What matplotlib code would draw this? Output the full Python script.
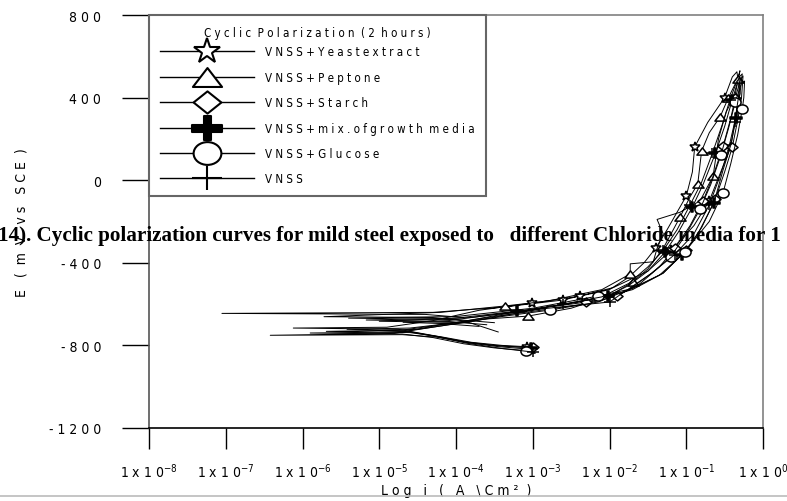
import numpy as np
import matplotlib
matplotlib.use("Agg")
import matplotlib.pyplot as plt
from matplotlib.path import Path
from matplotlib.transforms import Affine2D
from matplotlib.lines import Line2D
from matplotlib import font_manager
from matplotlib.ticker import FixedLocator, FixedFormatter, NullLocator

# ---------------- data ----------------
series_names = ["VNSS+Yeast extract", "VNSS+Peptone", "VNSS+Starch",
                "VNSS+mix. of growth media", "VNSS+Glucose", "VNSS"]
legend_labels = ["V N S S + Y e a s t e x t r a c t",
                 "V N S S + P e p t o n e",
                 "V N S S + S t a r c h",
                 "V N S S + m i x . o f g r o w t h  m e d i a",
                 "V N S S + G l u c o s e",
                 "V N S S"]
legend_title = "C y c l i c  P o l a r i z a t i o n  ( 2  h o u r s )"

# log10 of current density (A/cm2) and potential (mV vs SCE)
yeast_log_i = [-3.08, -3.5, -3.9, -4.3, -4.75, -6.12, -4.9, -4.3, -3.7, -3.01, -2.38, -2.0, -1.75,
               -1.55, -1.40, -1.25, -1.0, -0.92, -0.89, -0.72, -0.5, -0.40, -0.34, -0.3, -0.36,
               -0.42, -0.55, -0.7, -0.9, -1.2, -1.5, -1.95, -2.6, -3.4, -4.3, -7.05, -4.4, -3.9]
yeast_E = [-810, -800, -782, -752, -722, -716, -712, -680, -630, -595, -561, -530, -470,
           -400, -330, -240, -77, 40, 161, 280, 400, 500, 525, 420, 300,
           160, 40, -100, -220, -340, -440, -520, -580, -615, -640, -645, -650, -665]

peptone_log_i = [-3.05, -3.45, -3.85, -4.25, -4.7, -6.42, -4.8, -4.2, -3.6, -3.06, -2.5, -2.0, -1.70,
                 -1.5, -1.3, -1.08, -0.95, -0.85, -0.8, -0.7, -0.56, -0.45, -0.33, -0.3, -0.36,
                 -0.48, -0.58, -0.65, -0.82, -1.08, -1.38, -1.30, -1.38, -1.43, -1.73, -1.73,
                 -2.1, -2.8, -3.36, -4.2, -5.72, -4.3, -3.8]
peptone_E = [-818, -806, -787, -760, -748, -751, -742, -700, -672, -658, -620, -560, -493,
             -430, -330, -178, -80, -18, 141, 230, 306, 400, 490, 530, 420,
             330, 200, 20, -100, -155, -190, -260, -330, -395, -405, -454,
             -530, -585, -609, -640, -661, -665, -685]

starch_log_i = [-3.0, -3.4, -3.8, -4.2, -4.6, -5.69, -4.7, -4.1, -3.5, -2.9, -2.3, -1.9, -1.6,
                -1.35, -1.15, -0.95, -0.78, -0.65, -0.52, -0.42, -0.36, -0.29, -0.26, -0.28, -0.33,
                -0.40, -0.5, -0.62, -0.8, -1.0, -1.3, -1.7, -2.3, -3.1, -4.0, -5.17, -4.1, -3.6]
starch_E = [-808, -800, -785, -758, -738, -732, -726, -695, -660, -630, -598, -560, -500,
            -420, -330, -220, -100, 20, 165, 300, 400, 490, 505, 400, 290,
            160, 40, -90, -230, -340, -450, -530, -590, -630, -668, -677, -684, -700]

mix_log_i = [-3.02, -3.45, -3.85, -4.25, -4.65, -5.42, -4.6, -4.0, -3.4, -2.8, -2.02, -1.75, -1.5,
             -1.28, -1.1, -0.92, -0.78, -0.62, -0.5, -0.4, -0.31, -0.27, -0.3, -0.35, -0.42,
             -0.52, -0.64, -0.85, -1.05, -1.35, -1.8, -2.4, -3.2, -4.1, -4.69, -4.2, -3.7]
mix_E = [-812, -802, -786, -757, -730, -722, -716, -690, -650, -615, -561, -510, -440,
         -350, -250, -130, -20, 130, 260, 390, 500, 515, 420, 300, 170,
         50, -110, -260, -360, -460, -540, -590, -635, -680, -688, -694, -708]

glucose_log_i = [-3.09, -3.5, -3.9, -4.3, -4.7, -5.9, -4.7, -4.1, -3.4, -2.78, -2.15, -1.75, -1.45,
                 -1.2, -1.0, -0.82, -0.68, -0.55, -0.45, -0.36, -0.28, -0.24, -0.25, -0.27, -0.33,
                 -0.42, -0.52, -0.7, -1.02, -1.3, -1.7, -2.15, -3.0, -4.0, -5.4, -4.0, -3.5]
glucose_E = [-825, -812, -792, -762, -745, -740, -735, -700, -660, -629, -590, -530, -450,
             -370, -260, -140, -20, 120, 250, 380, 470, 480, 400, 345, 220,
             80, -60, -200, -348, -450, -525, -561, -620, -660, -668, -675, -690]

vnss_log_i = [-3.0, -3.4, -3.85, -4.25, -4.6, -5.0, -4.5, -3.9, -3.3, -2.6, -2.1, -1.75, -1.5,
              -1.3, -1.12, -0.95, -0.8, -0.66, -0.53, -0.43, -0.34, -0.3, -0.32, -0.37, -0.45,
              -0.56, -0.7, -0.9, -1.15, -1.45, -2.0, -2.8, -3.8, -5.0, -3.82, -3.45]
vnss_E = [-832, -815, -790, -758, -735, -728, -722, -690, -650, -600, -565, -500, -420,
          -340, -240, -120, -10, 130, 270, 390, 480, 495, 400, 280, 150,
          20, -120, -260, -360, -450, -590, -620, -665, -683, -690, -735]

x_ticks = [1e-8, 1e-7, 1e-6, 1e-5, 1e-4, 1e-3, 1e-2, 1e-1, 1e0]
x_tick_labels = [r"1 x 1 0$^{-8}$", r"1 x 1 0$^{-7}$", r"1 x 1 0$^{-6}$", r"1 x 1 0$^{-5}$",
                 r"1 x 1 0$^{-4}$", r"1 x 1 0$^{-3}$", r"1 x 1 0$^{-2}$", r"1 x 1 0$^{-1}$",
                 r"1 x 1 0$^{0}$"]
y_ticks = [800, 400, 0, -400, -800, -1200]
y_tick_labels = ["8 0 0", "4 0 0", "0", "- 4 0 0", "- 8 0 0", "- 1 2 0 0"]
x_label = "L o g   i   (   A   \\ C m ²  )"
y_label = "E   (  m  V   v s   S C E  )"
caption = "14). Cyclic polarization curves for mild steel exposed to   different Chloride media for 1"

# ---------------- fonts ----------------
names = {f.name for f in font_manager.fontManager.ttflist}
if "Liberation Sans Narrow" in names:
    NARROW = "Liberation Sans Narrow"
else:
    NARROW = "DejaVu Sans"
    plt.rcParams["font.stretch"] = "condensed"
plt.rcParams["font.family"] = [NARROW, "DejaVu Sans"]
plt.rcParams["mathtext.default"] = "regular"

# ---------------- marker shapes ----------------
tri_path = Path([(0, 0.65), (-1, -0.65), (1, -0.65), (0, 0.65)], closed=True)
dia_path = Path([(0, 0.8), (1, 0), (0, -0.8), (-1, 0), (0, 0.8)], closed=True)
ell_path = Affine2D().scale(1, 0.82).transform_path(Path.unit_circle())
w, h = 0.24, 0.82
bplus_path = Path([(-w, h), (w, h), (w, w), (1, w), (1, -w), (w, -w), (w, -h), (-w, -h),
                   (-w, -w), (-1, -w), (-1, w), (-w, w), (-w, h)], closed=True)
tplus_path = Path([(-1, 0), (1, 0), (0, -0.82), (0, 0.82)],
                  [Path.MOVETO, Path.LINETO, Path.MOVETO, Path.LINETO])

styles = [
    dict(marker="*", ms=7, lms=19, mfc="white"),
    dict(marker=tri_path, ms=8, lms=21, mfc="white"),
    dict(marker=dia_path, ms=8, lms=20, mfc="white"),
    dict(marker=bplus_path, ms=8, lms=21, mfc="black"),
    dict(marker=ell_path, ms=8, lms=20, mfc="white"),
    dict(marker=tplus_path, ms=9, lms=21, mfc="none"),
]
mark_idx = [
    [0, 9, 10, 14, 16, 18, 20, 25, 27, 29, 32],
    [0, 9, 12, 15, 17, 18, 20, 21, 22, 27, 35, 38],
    [0, 11, 14, 16, 18, 20, 25, 27, 29, 32],
    [0, 10, 13, 15, 17, 19, 23, 26, 28, 32],
    [0, 9, 13, 15, 17, 19, 23, 26, 28, 31],
    [0, 9, 13, 15, 17, 19, 23, 26, 28, 30],
]

all_log_i = [yeast_log_i, peptone_log_i, starch_log_i, mix_log_i, glucose_log_i, vnss_log_i]
all_E = [yeast_E, peptone_E, starch_E, mix_E, glucose_E, vnss_E]

# ---------------- figure ----------------
W, H = 787, 502
fig = plt.figure(figsize=(W / 100, H / 100), dpi=100)
ax = fig.add_axes([149 / W, 1 - 429 / H, 614 / W, 413 / H])

for li, E, st, mi in zip(all_log_i, all_E, styles, mark_idx):
    ax.plot(10 ** np.array(li), E, color="black", lw=0.7,
            marker=st["marker"], ms=st["ms"], mfc=st["mfc"], mec="black", mew=1.1,
            markevery=mi, zorder=3)

ax.set_xscale("log")
ax.set_xlim(1e-8, 1e0)
ax.set_ylim(-1200, 800)
ax.xaxis.set_major_locator(FixedLocator(x_ticks))
ax.xaxis.set_major_formatter(FixedFormatter(x_tick_labels))
ax.xaxis.set_minor_locator(NullLocator())
ax.yaxis.set_major_locator(FixedLocator(y_ticks))
ax.yaxis.set_major_formatter(FixedFormatter(y_tick_labels))
ax.tick_params(axis="y", length=19.5, width=1.0, pad=15, direction="out", labelsize=10)
ax.tick_params(axis="x", length=15, width=1.0, pad=9, direction="out", labelsize=10)

for side in ["top", "right"]:
    ax.spines[side].set_color("#808080")
    ax.spines[side].set_linewidth(1.2)
ax.spines["left"].set_color("#555555")
ax.spines["left"].set_linewidth(1.2)
ax.spines["bottom"].set_color("black")
ax.spines["bottom"].set_linewidth(1.2)

ax.set_xlabel(x_label, fontsize=10, va="center")
ax.xaxis.set_label_coords(0.5, (429 - 491) / 413)
ax.set_ylabel(y_label, fontsize=10, va="center", ha="center")
ax.yaxis.set_label_coords((22 - 149) / 614, 0.5)

LFS = 8.3
handles = [Line2D([], [], color="black", lw=1.0, marker=st["marker"], ms=st["lms"],
                  mfc=st["mfc"], mec="black", mew=1.5) for st in styles]
leg = ax.legend(handles, legend_labels, title=legend_title, loc="upper left",
                bbox_to_anchor=(0, 1), borderaxespad=0, fontsize=LFS, title_fontsize=LFS,
                frameon=True, fancybox=False, edgecolor="#666666", framealpha=1,
                handlelength=8.2, handletextpad=0.95, labelspacing=1.08, borderpad=0.95)
leg._legend_box.sep = 4.5  # tighter gap between legend title and first entry
leg.get_frame().set_linewidth(1.5)
leg.set_zorder(5)

# page rule at bottom
fig.add_artist(Line2D([0, 1], [1 - 497 / H, 1 - 497 / H], color="#bbbbbb", lw=1.2))

# overlapping caption text
cap = fig.text(-0.002, 1 - 240.5 / H, caption, fontfamily="Liberation Serif",
               fontweight="bold", fontsize=16, ha="left", va="baseline", zorder=10)
fig.canvas.draw()
bb = cap.get_window_extent(fig.canvas.get_renderer())
cap.set_fontsize(16 * 785 / bb.width)

fig.savefig("out.png", dpi=100)
